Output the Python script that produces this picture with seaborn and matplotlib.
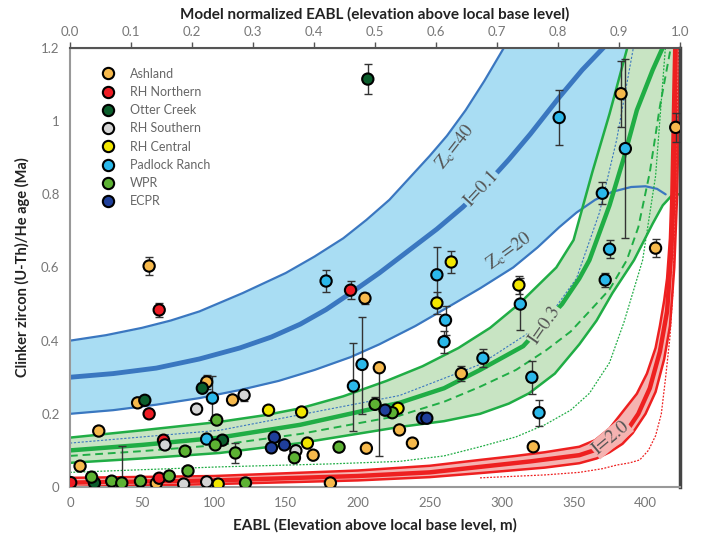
import numpy as np
import pandas as pd
import matplotlib
matplotlib.use("Agg")
import matplotlib.pyplot as plt
import seaborn as sns

# ---------------- data ----------------
sites = ["Ashland", "RH Northern", "Otter Creek", "RH Southern",
         "RH Central", "Padlock Ranch", "WPR", "ECPR"]
colors = ["#f6b94c", "#ee1c24", "#0b5e2c", "#d4d4d4",
          "#f2e600", "#2bb8ea", "#5db233", "#1f3f9a"]

ashland_x = [55, 20, 7, 47, 95, 113, 60, 169, 206, 181, 215, 205, 229, 238, 272, 322, 383, 407, 421]
ashland_y = [0.604, 0.153, 0.057, 0.23, 0.287, 0.238, 0.01, 0.087, 0.106, 0.011, 0.326, 0.516, 0.156, 0.12, 0.31, 0.11, 1.075, 0.653, 0.983]
ashland_lo = [0.025, 0, 0, 0, 0.02, 0, 0, 0, 0, 0, 0.24, 0.015, 0, 0, 0.02, 0, 0.09, 0.025, 0.04]
ashland_hi = [0.025, 0, 0, 0, 0.02, 0, 0, 0, 0, 0, 0.01, 0.015, 0, 0, 0.02, 0, 0.09, 0.025, 0.04]

rhn_x = [62, 55, 65, 0.5, 62, 195]
rhn_y = [0.484, 0.20, 0.128, 0.012, 0.024, 0.538]
rhn_lo = [0.02, 0, 0, 0, 0, 0.025]
rhn_hi = [0.02, 0, 0, 0, 0, 0.025]

otter_x = [207, 92, 52, 106, 17]
otter_y = [1.115, 0.27, 0.237, 0.128, 0.011]
otter_lo = [0.04, 0, 0, 0, 0]
otter_hi = [0.04, 0, 0, 0, 0]

rhs_x = [88, 121, 66, 79, 95, 157]
rhs_y = [0.213, 0.251, 0.115, 0.008, 0.014, 0.099]
rhs_lo = [0, 0.015, 0, 0, 0, 0]
rhs_hi = [0, 0.015, 0, 0, 0, 0]

rhc_x = [103, 138, 161, 165, 228, 255, 265, 312]
rhc_y = [0.008, 0.21, 0.205, 0.12, 0.215, 0.503, 0.615, 0.552]
rhc_lo = [0, 0, 0, 0, 0, 0.03, 0.03, 0.025]
rhc_hi = [0, 0, 0, 0, 0, 0.03, 0.03, 0.025]

pad_x = [99, 95, 178, 197, 203, 255, 261, 260, 287, 313, 321, 326, 340, 386, 370, 375, 372]
pad_y = [0.243, 0.131, 0.563, 0.276, 0.335, 0.58, 0.456, 0.397, 0.352, 0.50, 0.30, 0.203, 1.01, 0.925, 0.803, 0.65, 0.566]
pad_lo = [0.06, 0, 0.03, 0.123, 0.135, 0.077, 0.04, 0.03, 0.025, 0.07, 0.045, 0.035, 0.075, 0.245, 0.03, 0.025, 0.02]
pad_hi = [0.06, 0, 0.03, 0.118, 0.13, 0.076, 0.04, 0.03, 0.025, 0.07, 0.045, 0.035, 0.075, 0.245, 0.03, 0.025, 0.02]

wpr_x = [15, 29, 36, 49, 69, 82, 80, 101, 102, 115, 122, 156, 187, 212, 224]
wpr_y = [0.027, 0.016, 0.011, 0.016, 0.03, 0.044, 0.098, 0.115, 0.183, 0.093, 0.011, 0.08, 0.109, 0.226, 0.203]
wpr_lo = [0, 0, 0, 0, 0, 0, 0, 0, 0, 0.028, 0, 0, 0, 0.01, 0]
wpr_hi = [0, 0, 0.10, 0, 0, 0, 0, 0, 0, 0.028, 0, 0, 0, 0.02, 0]

ecpr_x = [142, 140, 149, 219, 245, 248]
ecpr_y = [0.136, 0.107, 0.115, 0.21, 0.188, 0.188]
ecpr_lo = [0, 0, 0, 0, 0, 0]
ecpr_hi = [0, 0, 0, 0, 0, 0]

# model curves (EABL m, age Ma)
zc40_x = [0, 25, 50, 70, 90, 120, 150, 170, 190, 206, 222, 236, 250, 262, 275, 288, 300, 303]
zc40_y = [0.40, 0.415, 0.435, 0.455, 0.48, 0.53, 0.585, 0.63, 0.68, 0.73, 0.785, 0.845, 0.905, 0.96, 1.03, 1.11, 1.19, 1.21]
i01_x = [0, 30, 60, 90, 118, 140, 160, 178, 195, 215, 235, 255, 273, 290, 305, 320, 340, 356, 373]
i01_y = [0.30, 0.31, 0.325, 0.35, 0.38, 0.41, 0.445, 0.485, 0.53, 0.585, 0.645, 0.705, 0.765, 0.83, 0.895, 0.965, 1.065, 1.14, 1.21]
zc20_x = [0, 30, 60, 90, 118, 145, 170, 195, 215, 240, 262, 285, 308, 325, 340, 352, 365, 377, 390, 400, 408, 414]
zc20_y = [0.20, 0.21, 0.225, 0.243, 0.265, 0.29, 0.32, 0.355, 0.39, 0.44, 0.49, 0.543, 0.60, 0.655, 0.71, 0.75, 0.785, 0.807, 0.82, 0.822, 0.815, 0.80]

gup_x = [0, 50, 104, 135, 160, 190, 220, 245, 270, 292, 312, 325, 338, 350, 363, 375, 388]
gup_y = [0.135, 0.155, 0.178, 0.196, 0.215, 0.248, 0.29, 0.33, 0.38, 0.435, 0.50, 0.55, 0.60, 0.675, 0.86, 1.02, 1.21]
gmid_x = [0, 50, 104, 160, 229, 260, 285, 315, 342, 354, 361, 375, 385, 394, 405, 413]
gmid_y = [0.10, 0.115, 0.135, 0.17, 0.23, 0.27, 0.32, 0.385, 0.50, 0.57, 0.62, 0.77, 0.90, 1.03, 1.14, 1.21]
gdash_x = [0, 50, 104, 160, 229, 260, 285, 310, 331, 348, 361, 375, 387, 395, 403, 410, 418]
gdash_y = [0.085, 0.098, 0.115, 0.145, 0.195, 0.233, 0.274, 0.32, 0.374, 0.425, 0.48, 0.54, 0.62, 0.71, 0.86, 1.04, 1.21]
glow_x = [0, 50, 104, 160, 229, 260, 285, 305, 319, 337, 354, 366, 377, 392, 405, 412, 419, 424]
glow_y = [0.066, 0.078, 0.093, 0.12, 0.164, 0.18, 0.20, 0.228, 0.256, 0.31, 0.39, 0.455, 0.53, 0.62, 0.72, 0.77, 0.80, 0.80]
gdot_x = [0, 104, 180, 229, 260, 285, 310, 330, 348, 361, 375, 385, 398, 407, 414]
gdot_y = [0.04, 0.055, 0.063, 0.07, 0.085, 0.11, 0.137, 0.17, 0.21, 0.256, 0.34, 0.45, 0.62, 0.85, 1.21]
bdot_x = [0, 104, 229, 285, 330, 352, 368, 380, 392]
bdot_y = [0.12, 0.155, 0.25, 0.335, 0.45, 0.57, 0.75, 0.95, 1.21]

rup_x = [0, 100, 200, 250, 285, 310, 330, 354, 365, 375, 384, 394, 401, 407, 410, 413, 415, 417, 418, 419, 420]
rup_y = [0.025, 0.03, 0.045, 0.058, 0.074, 0.085, 0.095, 0.11, 0.128, 0.16, 0.205, 0.255, 0.31, 0.38, 0.44, 0.51, 0.57, 0.68, 0.8, 1.0, 1.21]
rmid_x = [0, 100, 200, 250, 285, 320, 354, 368, 380, 389, 395, 403, 410, 415, 418, 420, 421]
rmid_y = [0.012, 0.018, 0.03, 0.04, 0.055, 0.07, 0.087, 0.105, 0.135, 0.165, 0.2, 0.27, 0.37, 0.48, 0.65, 0.85, 1.21]
rlow_x = [0, 100, 200, 250, 285, 330, 354, 366, 375, 384, 391, 400, 407, 413, 417, 420, 422, 424]
rlow_y = [0.0, 0.008, 0.018, 0.027, 0.038, 0.053, 0.065, 0.078, 0.095, 0.118, 0.147, 0.20, 0.26, 0.35, 0.44, 0.6, 0.8, 1.21]
rdot_x = [285, 330, 354, 370, 380, 389, 396, 402, 407, 411, 414, 417, 419, 421, 423]
rdot_y = [0.025, 0.033, 0.04, 0.05, 0.06, 0.066, 0.074, 0.1, 0.14, 0.2, 0.30, 0.41, 0.53, 0.8, 1.21]

x_ticks = [0, 50, 100, 150, 200, 250, 300, 350, 400]
y_ticks = [0, 0.2, 0.4, 0.6, 0.8, 1.0, 1.2]
top_ticks = [0.0, 0.1, 0.2, 0.3, 0.4, 0.5, 0.6, 0.7, 0.8, 0.9, 1.0]
x_max = 424

# ---------------- build table ----------------
groups = [(ashland_x, ashland_y, ashland_lo, ashland_hi),
          (rhn_x, rhn_y, rhn_lo, rhn_hi),
          (otter_x, otter_y, otter_lo, otter_hi),
          (rhs_x, rhs_y, rhs_lo, rhs_hi),
          (rhc_x, rhc_y, rhc_lo, rhc_hi),
          (pad_x, pad_y, pad_lo, pad_hi),
          (wpr_x, wpr_y, wpr_lo, wpr_hi),
          (ecpr_x, ecpr_y, ecpr_lo, ecpr_hi)]
rows = []
for s, (gx, gy, glo, ghi) in zip(sites, groups):
    for a, b, c, d in zip(gx, gy, glo, ghi):
        rows.append({"site": s, "eabl": a, "age": b, "lo": c, "hi": d})
df = pd.DataFrame(rows)

# ---------------- plot ----------------
sns.set_style("white")
plt.rcParams["font.family"] = ["Lato", "DejaVu Sans"]
plt.rcParams["mathtext.fontset"] = "stix"

fig = plt.figure(figsize=(7.02, 5.38), dpi=100)
ax = fig.add_axes([0.0997, 0.0948, 0.869, 0.816])

def interp(xs, ys, grid):
    return np.interp(grid, xs, ys)

grid = np.linspace(0, x_max, 800)
BLUE_F, BLUE_L = "#a9ddf3", "#3a77c0"
GREEN_F, GREEN_L = "#c8e4c3", "#20ad45"
RED_F, RED_L = "#f5b3b1", "#ee2020"

# blue band
gb = grid[grid <= zc20_x[-1]]
ax.fill_between(gb, np.minimum(interp(zc40_x, zc40_y, gb), 1.2),
                interp(zc20_x, zc20_y, gb), color=BLUE_F, lw=0, zorder=1)
ax.plot(zc40_x, zc40_y, color=BLUE_L, lw=1.6, zorder=2)
ax.plot(zc20_x, zc20_y, color=BLUE_L, lw=1.6, zorder=2)
ax.plot(i01_x, i01_y, color=BLUE_L, lw=3.5, zorder=2, solid_capstyle="butt")

# green band
gg = grid[grid <= 419]
gup_cap = np.where(gg <= gup_x[-1], np.minimum(interp(gup_x, gup_y, gg), 1.2), 1.2)
ax.fill_between(gg, gup_cap, interp(glow_x, glow_y, gg), color=GREEN_F, lw=0, zorder=1.5)
ax.plot(bdot_x, bdot_y, color=BLUE_L, lw=0.8, ls=(0, (2, 1.5)), zorder=2)
ax.plot(gup_x, gup_y, color=GREEN_L, lw=1.8, zorder=2.1)
ax.plot(glow_x, glow_y, color=GREEN_L, lw=1.8, zorder=2.1)
ax.plot(gmid_x, gmid_y, color=GREEN_L, lw=3.2, zorder=2.1)
ax.plot(gdash_x, gdash_y, color=GREEN_L, lw=1.4, ls=(0, (4, 2.5)), zorder=2.1)
ax.plot(gdot_x, gdot_y, color=GREEN_L, lw=0.9, ls=(0, (1.5, 1.2)), zorder=2.1)

# red band
ax.fill_between(grid, interp(rup_x, rup_y, grid), interp(rlow_x, rlow_y, grid),
                color=RED_F, lw=0, zorder=2.2)
ax.plot(rup_x, rup_y, color=RED_L, lw=1.8, zorder=2.3)
ax.plot(rlow_x, rlow_y, color=RED_L, lw=1.8, zorder=2.3)
ax.plot(rmid_x, rmid_y, color=RED_L, lw=3.2, zorder=2.3)
ax.plot(rdot_x, rdot_y, color=RED_L, lw=0.9, ls=(0, (1.5, 1.2)), zorder=2.3)

# curve labels
lab_kw = dict(family="STIXGeneral", color="#555555", fontsize=13.5, ha="center",
              va="center", zorder=2.6)
ax.text(268, 0.93, r"Z$_\mathrm{c}$=40", rotation=52, **lab_kw)
ax.text(286, 0.815, "I=0.1", rotation=47,
        bbox=dict(boxstyle="square,pad=0.05", fc=BLUE_F, ec="none"), **lab_kw)
ax.text(305, 0.645, r"Z$_\mathrm{c}$=20", rotation=36, **lab_kw)
ax.text(330, 0.443, "I=0.3", rotation=55,
        bbox=dict(boxstyle="square,pad=0.05", fc=GREEN_F, ec="none"), **lab_kw)
ax.text(376, 0.134, "I=2.0", rotation=40,
        bbox=dict(boxstyle="square,pad=0.05", fc=RED_F, ec="none"), **lab_kw)

# error bars
e = df[(df["lo"] > 0) | (df["hi"] > 0)]
ax.errorbar(e["eabl"], e["age"], yerr=[e["lo"], e["hi"]], fmt="none",
            ecolor="#333333", elinewidth=1.0, capsize=3, capthick=1.0, zorder=4)

# points
palette = dict(zip(sites, colors))
sns.scatterplot(data=df, x="eabl", y="age", hue="site", hue_order=sites,
                palette=palette, s=66, edgecolor="black", linewidth=1.5,
                ax=ax, zorder=5, legend=True)

ax.set_xlim(0, x_max)
ax.set_ylim(0, 1.2)
ax.set_xticks(x_ticks)
ax.set_yticks(y_ticks)
ax.set_yticklabels(["%g" % v for v in y_ticks])
ax.tick_params(axis="both", colors="#888888", labelcolor="#777777",
               labelsize=9.5, direction="out", length=4, width=1)
ax.tick_params(axis="x", top=False)
ax.set_xlabel("EABL (Elevation above local base level, m)", fontsize=11,
              fontweight="bold", color="#222222", labelpad=6)
ax.set_ylabel("Clinker zircon (U-Th)/He age (Ma)", fontsize=10.5,
              fontweight="bold", color="#222222", labelpad=8)
for side in ["left", "bottom"]:
    ax.spines[side].set_color("#999999")
    ax.spines[side].set_linewidth(1.5)
ax.spines["top"].set_color("#555555")
ax.spines["top"].set_linewidth(1.5)
ax.spines["right"].set_color("#444444")
ax.spines["right"].set_linewidth(2.5)

sec = ax.secondary_xaxis("top", functions=(lambda v: v / x_max, lambda v: v * x_max))
sec.set_xticks(top_ticks)
sec.set_xticklabels(["%.1f" % v for v in top_ticks])
sec.tick_params(colors="#555555", labelcolor="#777777", labelsize=9.5,
                direction="out", length=4, width=1)
sec.set_xlabel("Model normalized EABL (elevation above local base level)",
               fontsize=11, fontweight="bold", color="#222222", labelpad=5)

handles, labels = ax.get_legend_handles_labels()
leg = ax.legend(handles, labels, loc="upper left", bbox_to_anchor=(0.035, 0.978),
                frameon=False, fontsize=9, labelspacing=0.5, handletextpad=1.3,
                handlelength=1.0, borderpad=0.3)
for t in leg.get_texts():
    t.set_color("#666666")
for h in leg.legend_handles:
    try:
        h.set_markeredgecolor("black")
        h.set_markeredgewidth(1.5)
    except AttributeError:
        pass

fig.savefig("out.png", dpi=100)
